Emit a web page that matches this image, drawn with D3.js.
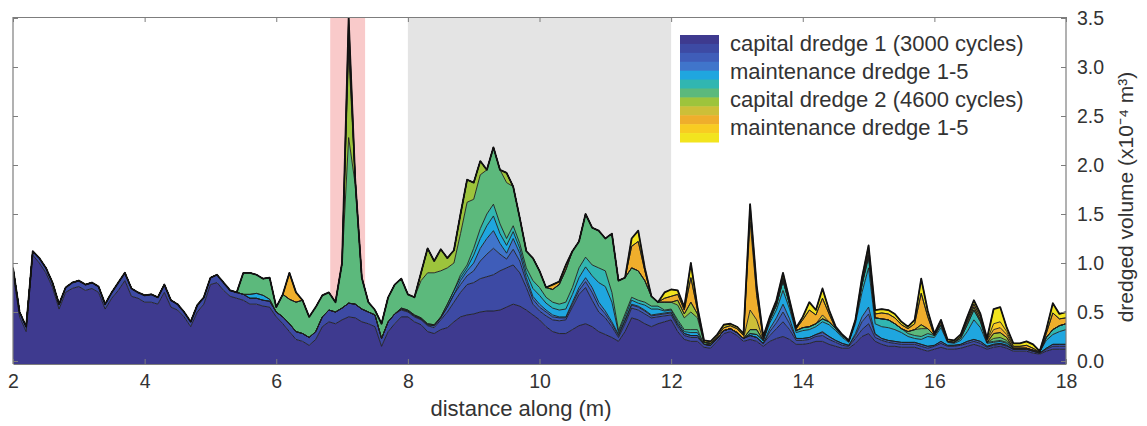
<!DOCTYPE html>
<html><head><meta charset="utf-8">
<script src="https://cdn.jsdelivr.net/npm/d3@7"></script>
<style>
body{margin:0;background:#fff;}
svg{display:block;font-family:"Liberation Sans",Arial,Helvetica,sans-serif;}
</style>
</head><body>
<svg id="chart" width="1147" height="426"></svg>
<script>
// ---------------- DATA ----------------
// distance grid (m), 0.1 m steps from 2.0 to 18.0
const distance = d3.range(161).map(i => Math.round((2 + i * 0.1) * 10) / 10);

// capital dredge 1 (3000 cycles)
const capital1 = [
0.9,0.45,0.3,1.08,1.0,0.9,0.75,0.53,0.7,0.74,
0.76,0.72,0.74,0.7,0.53,0.64,0.72,0.82,0.66,0.64,
0.6,0.6,0.58,0.7,0.55,0.52,0.45,0.35,0.5,0.58,
0.78,0.8,0.72,0.66,0.64,0.62,0.58,0.58,0.56,0.55,
0.45,0.38,0.3,0.22,0.2,0.16,0.22,0.35,0.4,0.38,
0.42,0.45,0.44,0.4,0.38,0.35,0.15,0.3,0.38,0.45,
0.45,0.4,0.37,0.3,0.28,0.32,0.34,0.4,0.45,0.47,
0.48,0.5,0.51,0.51,0.52,0.55,0.58,0.56,0.52,0.47,
0.42,0.35,0.3,0.28,0.28,0.32,0.36,0.38,0.35,0.3,
0.27,0.24,0.2,0.3,0.44,0.42,0.38,0.35,0.38,0.4,
0.42,0.3,0.22,0.2,0.2,0.14,0.13,0.2,0.28,0.3,
0.26,0.2,0.22,0.2,0.15,0.2,0.23,0.25,0.22,0.17,
0.17,0.18,0.2,0.2,0.17,0.15,0.13,0.13,0.18,0.25,
0.28,0.2,0.17,0.15,0.15,0.14,0.14,0.14,0.12,0.1,
0.12,0.14,0.12,0.12,0.13,0.15,0.17,0.15,0.12,0.14,
0.15,0.13,0.1,0.1,0.1,0.08,0.07,0.1,0.12,0.12,
0.12];

// maintenance dredges 1-5 after capital dredge 1
const maint1a = [
0.05,0.05,0.05,0.04,0.05,0.05,0.05,0.05,0.05,0.06,
0.06,0.06,0.06,0.06,0.05,0.06,0.08,0.08,0.08,0.06,
0.07,0.08,0.07,0.08,0.07,0.06,0.05,0.05,0.07,0.07,
0.07,0.08,0.08,0.06,0.06,0.06,0.06,0.06,0.06,0.06,
0.05,0.07,0.08,0.08,0.08,0.08,0.08,0.1,0.12,0.12,
0.12,0.14,0.14,0.13,0.12,0.12,0.08,0.1,0.1,0.07,
0.05,0.05,0.05,0.06,0.06,0.1,0.16,0.2,0.25,0.31,
0.32,0.34,0.35,0.37,0.4,0.4,0.4,0.34,0.23,0.11,
0.09,0.11,0.12,0.13,0.14,0.23,0.32,0.37,0.27,0.2,
0.17,0.11,0.04,0.08,0.1,0.1,0.1,0.09,0.07,0.06,
0.05,0.05,0.04,0.04,0.04,0.03,0.03,0.03,0.03,0.03,
0.03,0.03,0.04,0.04,0.03,0.06,0.1,0.15,0.1,0.04,
0.04,0.04,0.05,0.06,0.05,0.04,0.03,0.02,0.05,0.07,
0.1,0.04,0.04,0.04,0.03,0.03,0.03,0.03,0.03,0.03,
0.03,0.04,0.03,0.03,0.03,0.03,0.03,0.03,0.02,0.02,
0.02,0.02,0.02,0.02,0.02,0.02,0.01,0.02,0.03,0.03,
0.03];
const maint2a = [
0,0,0,0,0,0,0,0,0,0, 0,0,0,0,0,0,0,0,0,0, 0,0,0,0,0,0,0,0,0,0,
0,0,0,0,0,0,0,0,0,0, 0,0,0,0,0,0,0,0,0,0,
0,0,0,0,0,0,0,0,0,0.01,
0.01,0.01,0.01,0.01,0.02,0.02,0.05,0.08,0.08,0.09,
0.12,0.18,0.23,0.27,0.17,0.09,0.16,0.12,0.06,0.05,
0.04,0.04,0.03,0.03,0.02,0.03,0.04,0.06,0.08,0.06,
0.04,0.03,0.02,0.03,0.03,0.03,0.03,0.02,0.02,0.02,
0.02,0.02,0.02,0.02,0.02,0,0,0,0,0,
0,0,0,0,0,0.04,0.06,0.1,0.06,0.02,
0.02,0.02,0.02,0.03,0.03,0.02,0.02,0.01,0.03,0.08,
0.1,0.03,0.02,0.02,0.02,0.02,0.02,0.02,0.02,0.02,
0.01,0.02,0.01,0.01,0.01,0.02,0.02,0.02,0.01,0.01,
0.01,0.01,0,0,0,0,0,0.01,0.02,0.02,
0.02];
const maint3a = [
0,0,0,0,0,0,0,0,0,0, 0,0,0,0,0,0,0,0,0,0, 0,0,0,0,0,0,0,0,0,0,
0,0,0,0,0,0,0,0,0,0, 0,0,0,0,0,0,0,0,0,0, 0,0,0,0,0,0,0,0,0,0,
0,0,0,0,0,0,0,0,0.04,0.05,
0.08,0.13,0.16,0.18,0.11,0.06,0.11,0.08,0.04,0.03,
0.03,0.02,0.02,0.01,0.01,0.02,0.03,0.04,0.05,0.04,
0.03,0.02,0.01,0.01,0.01,0.01,0.01,0.01,0.01,0.01,
0.01,0.01,0,0,0,0,0,0,0,0,
0,0,0,0,0,0.03,0.05,0.08,0.05,0,
0,0,0,0.01,0,0,0,0,0.02,0.05,
0.07,0.01,0,0,0,0,0,0,0,0,
0,0,0,0,0,0,0,0,0,0, 0,0,0,0,0,0,0,0,0,0,
0];
const maint4a = [
0,0,0,0,0,0,0,0,0,0, 0,0,0,0,0,0,0,0,0,0, 0,0,0,0,0,0,0,0,0,0,
0,0,0,0,0,0,0.04,0.05,0.05,0.02,
0,0,0,0,0,0,0,0,0,0,
0,0,0,0,0,0,0,0,0,0.01,
0.01,0.01,0.01,0.01,0.01,0.01,0.03,0.04,0.03,0.03,
0.08,0.1,0.13,0.15,0.1,0.08,0.07,0.05,0.05,0.08,
0.09,0.07,0.07,0.07,0.08,0.08,0.1,0.11,0.12,0.2,
0.25,0.2,0.02,0.03,0.04,0.03,0.05,0.06,0.05,0.02,
0.02,0.02,0.02,0.03,0.03,0,0,0,0,0,
0,0,0.02,0.03,0.03,0.06,0.08,0.14,0.1,0.06,
0.08,0.08,0.08,0.1,0.12,0.1,0.06,0.03,0.1,0.25,
0.4,0.1,0.12,0.13,0.12,0.1,0.06,0.04,0.05,0.1,
0.08,0.14,0.03,0.02,0.04,0.1,0.2,0.14,0.03,0.02,
0.02,0.02,0.01,0.01,0.01,0.01,0.01,0.08,0.1,0.13,
0.15];
const maint5a = [
0,0,0,0,0,0,0,0,0,0, 0,0,0,0,0,0,0,0,0,0, 0,0,0,0,0,0,0,0,0,0,
0,0,0,0,0,0,0,0,0,0, 0,0,0,0,0,0,0,0,0,0, 0,0,0,0,0,0,0,0,0,0,
0,0,0,0,0,0,0,0,0.03,0.03,
0.07,0.1,0.12,0.12,0.1,0.07,0.06,0.05,0.05,0.08,
0.08,0.06,0.06,0.06,0.07,0.07,0.1,0.1,0.11,0.15,
0.16,0.1,0.02,0.03,0.03,0.03,0.03,0.03,0.03,0.01,
0.01,0.02,0.02,0.03,0.03,0,0,0,0,0,
0,0,0,0,0,0.03,0.05,0.1,0.05,0.02,
0.03,0.03,0.03,0.03,0.03,0.02,0.02,0.01,0.03,0.08,
0.1,0.06,0.08,0.08,0.06,0.04,0.03,0.03,0.03,0.03,
0.02,0.03,0.01,0.01,0.02,0.07,0.1,0.06,0.01,0.01,
0.01,0.01,0,0,0,0,0,0.03,0.05,0.06,
0.06];

// capital dredge 2 (4600 cycles)
const capital2 = [
0,0,0,0,0,0,0,0,0,0, 0,0,0,0,0,0,0,0,0,0, 0,0,0,0,0,0,0,0,0,0,
0,0,0,0,0,0.22,0.22,0.19,0.17,0.22,
0.05,0.23,0.25,0.3,0.34,0.21,0.25,0.22,0.18,0.1,
0.46,1.69,1.22,0.32,0.1,0.05,0.15,0.25,0.3,0.3,
0.16,0.18,0.38,0.52,0.53,0.47,0.37,0.28,0.42,0.64,
0.5,0.55,0.45,0.58,0.55,0.57,0.4,0.26,0.17,0.23,
0.17,0.1,0.13,0.2,0.33,0.37,0.27,0.44,0.38,0.38,
0.33,0.6,0.51,0.37,0.3,0.3,0.22,0.1,0.04,0.08,
0.07,0.15,0.12,0.18,0.12,0.02,0.02,0,0,0,
0,0,0.04,0.05,0,0,0,0,0,0,
0,0,0,0,0,0,0,0,0,0,
0.03,0,0,0,0,0,0.02,0.06,0.08,0.05,
0,0,0,0,0,0,0,0,0,0.03,
0.03,0.02,0,0,0,0,0,0,0,0,
0];

// maintenance dredges 1-5 after capital dredge 2: [distance, volume], zero elsewhere
const maint1b = [[7.1,0.88],[7.2,0.05],[8.2,0.08],[8.3,0.25],[8.4,0.12],[8.5,0.22],[8.6,0.1],[8.7,0.13],[8.8,0.2],[8.9,0.23],[9.0,0.17],[9.1,0.14],[9.5,0.1],[12.1,0.05],[12.2,0.04],[12.3,0.1],[12.4,0.04],[15.8,0.04],[16.4,0.02],[16.5,0.03],[16.6,0.03],[16.7,0.02],[16.9,0.05],[17.0,0.05],[17.1,0.03]];
const maint2b = [[7.1,0.1],[13.2,0.2],[13.3,0.1],[14.3,0.04]];
const maint3b = [[6.2,0.27],[6.3,0.1],[7.1,0.12],[10.2,0.05],[10.3,0.03],[10.4,0.05],[11.4,0.22],[11.5,0.3],[11.6,0.1],[11.9,0.04],[12.0,0.06],[12.1,0.06],[12.2,0.04],[12.3,0.25],[12.4,0.04],[12.7,0.02],[12.8,0.03],[12.9,0.03],[13.0,0.04],[13.1,0.03],[13.2,0.9],[13.3,0.25],[13.4,0.02],[13.5,0.02],[13.6,0.03],[13.7,0.03],[13.8,0.02],[13.9,0.02],[14.0,0.08],[14.1,0.17],[14.2,0.09],[14.3,0.17],[14.4,0.08],[14.9,0.03],[15.0,0.04],[15.1,0.04],[15.2,0.06],[15.3,0.06],[15.4,0.06],[15.5,0.04],[15.6,0.03],[15.7,0.06],[15.8,0.32],[15.9,0.12],[16.1,0.03],[16.5,0.02],[16.6,0.03],[16.7,0.03],[16.8,0.02],[16.9,0.04],[17.0,0.05],[17.1,0.03],[17.2,0.02],[17.3,0.02],[17.4,0.03],[17.5,0.02],[17.7,0.04],[17.8,0.17],[17.9,0.07],[18.0,0.06]];
const maint4b = [[7.1,0.1],[13.2,0.1],[16.9,0.06],[17.0,0.06],[17.1,0.03]];
const maint5b = [[7.1,0.02],[11.4,0.08],[11.5,0.11],[11.6,0.03],[11.9,0.06],[12.0,0.07],[12.1,0.04],[12.2,0.03],[12.3,0.15],[12.4,0.03],[12.5,0.02],[12.6,0.02],[12.7,0.02],[12.8,0.03],[12.9,0.02],[13.0,0.02],[13.1,0.02],[13.2,0.08],[13.3,0.1],[13.4,0.02],[13.5,0.01],[13.6,0.02],[13.7,0.05],[13.8,0.02],[13.9,0.01],[14.0,0.03],[14.1,0.08],[14.2,0.05],[14.3,0.1],[14.4,0.04],[14.5,0.02],[14.6,0.01],[14.7,0.01],[14.8,0.01],[14.9,0.04],[15.0,0.06],[15.1,0.04],[15.2,0.04],[15.3,0.04],[15.4,0.04],[15.5,0.03],[15.6,0.02],[15.7,0.04],[15.8,0.15],[15.9,0.06],[16.0,0.02],[16.1,0.02],[16.2,0.02],[16.3,0.02],[16.4,0.02],[16.5,0.03],[16.6,0.04],[16.7,0.03],[16.8,0.02],[16.9,0.15],[17.0,0.15],[17.1,0.04],[17.2,0.03],[17.3,0.03],[17.4,0.04],[17.5,0.04],[17.6,0.01],[17.7,0.04],[17.8,0.1],[17.9,0.05],[18.0,0.06]];

const layerKeys = ["capital1","maint1a","maint2a","maint3a","maint4a","maint5a","capital2","maint1b","maint2b","maint3b","maint4b","maint5b"];
const layerColors = ["#3e3a8f","#3d4aa4","#3f5db9","#4075cb","#1fa6df","#31b6b1","#5cb97c","#9dc43c","#cdbf38","#efae2c","#f8cc22","#f2e41e"];
const legendLabels = ["capital dredge 1 (3000 cycles)","maintenance dredge 1-5","capital dredge 2 (4600 cycles)","maintenance dredge 1-5"];
const xTicks = [2,4,6,8,10,12,14,16,18];
const yTicks = [0,0.5,1,1.5,2,2.5,3,3.5];
const bandRanges = [[6.82,7.35],[8.0,12.0]];
const bandColors = ["#f9caca","#e4e4e4"];

// ---------------- BUILD ----------------
function dense(pairs){
  const m = new Map(pairs.map(([d,v]) => [d.toFixed(1), v]));
  return distance.map(d => m.get(d.toFixed(1)) || 0);
}
const series = {capital1, maint1a, maint2a, maint3a, maint4a, maint5a, capital2,
  maint1b: dense(maint1b), maint2b: dense(maint2b), maint3b: dense(maint3b),
  maint4b: dense(maint4b), maint5b: dense(maint5b)};
const rows = distance.map((d,i) => {
  const r = {distance: d};
  layerKeys.forEach(k => r[k] = series[k][i]);
  return r;
});
const stacked = d3.stack().keys(layerKeys)(rows);

const L = 13, R = 1066, T = 17, B = 364;
const x = d3.scaleLinear().domain([2,18]).range([L,R]);
const y = d3.scaleLinear().domain([0,3.5]).range([361,18]);

const svg = d3.select("#chart");
svg.append("defs").append("clipPath").attr("id","plotclip")
  .append("rect").attr("x",L).attr("y",T).attr("width",R-L).attr("height",B-T);

// background bands
svg.append("g").selectAll("rect").data(bandRanges).join("rect")
  .attr("x", d => x(d[0])).attr("width", d => x(d[1]) - x(d[0]))
  .attr("y", T).attr("height", B - T)
  .attr("fill", (d,i) => bandColors[i]);

const plot = svg.append("g").attr("clip-path","url(#plotclip)");
const area = d3.area()
  .x(d => x(d.data.distance))
  .y0((d) => d[0] === 0 ? B : y(d[0]))
  .y1(d => y(d[1]));
plot.selectAll("path.layer").data(stacked).join("path")
  .attr("class","layer")
  .attr("d", area)
  .attr("fill", (d,i) => layerColors[i]);
const line = d3.line().x(d => x(d.data.distance)).y(d => y(d[1]));
plot.selectAll("path.edge").data(stacked).join("path")
  .attr("class","edge")
  .attr("d", line)
  .attr("fill","none").attr("stroke","#1d1d1d").attr("stroke-width",0.9)
  .attr("stroke-linejoin","round");
plot.append("path").datum(stacked[stacked.length-1])
  .attr("d", line).attr("fill","none").attr("stroke","#111").attr("stroke-width",1.8)
  .attr("stroke-linejoin","round");

// axes
const axisColor = "#7d7d7d";
function styleAxis(g, showText){
  g.select(".domain").attr("stroke", axisColor).attr("stroke-width",1.2);
  g.selectAll(".tick line").attr("stroke", axisColor);
  g.selectAll(".tick text").attr("fill","#333").attr("font-size","19.5px")
    .style("display", showText ? null : "none");
}
svg.append("g").attr("transform",`translate(0,${B})`)
  .call(d3.axisBottom(x).tickValues(xTicks).tickSizeInner(-5).tickSizeOuter(0).tickPadding(10).tickFormat(d3.format("d")))
  .call(g => styleAxis(g, true)).attr("font-family", null);
svg.append("g").attr("transform",`translate(0,${T})`)
  .call(d3.axisTop(x).tickValues(xTicks).tickSizeInner(-5).tickSizeOuter(0))
  .call(g => styleAxis(g, false)).attr("font-family", null);
svg.append("g").attr("transform",`translate(${L},0)`)
  .call(d3.axisLeft(y).tickValues(yTicks).tickSizeInner(-5).tickSizeOuter(0))
  .call(g => { g.select(".domain").attr("d", `M0,${T}V${B}`); styleAxis(g, false); }).attr("font-family", null);
svg.append("g").attr("transform",`translate(${R},0)`)
  .call(d3.axisRight(y).tickValues(yTicks).tickSizeInner(-5).tickSizeOuter(0).tickPadding(11).tickFormat(d3.format(".1f")))
  .call(g => { g.select(".domain").attr("d", `M0,${T}V${B}`); styleAxis(g, true); }).attr("font-family", null);

// axis titles
svg.append("text").attr("x", 521).attr("y", 416).attr("text-anchor","middle")
  .attr("font-size","22px").attr("fill","#333").text("distance along (m)");
svg.append("text").attr("transform","translate(1133,197) rotate(-90)")
  .attr("text-anchor","middle").attr("font-size","21px").attr("fill","#333")
  .text("dredged volume (x10\u207B\u2074 m\u00B3)");

// legend
const lg = svg.append("g");
const sw = (142 - 35) / layerColors.length;
lg.selectAll("rect").data(layerColors).join("rect")
  .attr("x", 680).attr("width", 39)
  .attr("y", (d,i) => 35 + i * sw).attr("height", sw + 0.5)
  .attr("fill", d => d);
lg.selectAll("text").data(legendLabels).join("text")
  .attr("x", 730).attr("y", (d,i) => 51 + i * 28)
  .attr("font-size","22px").attr("fill","#333").text(d => d);
</script>
</body></html>
